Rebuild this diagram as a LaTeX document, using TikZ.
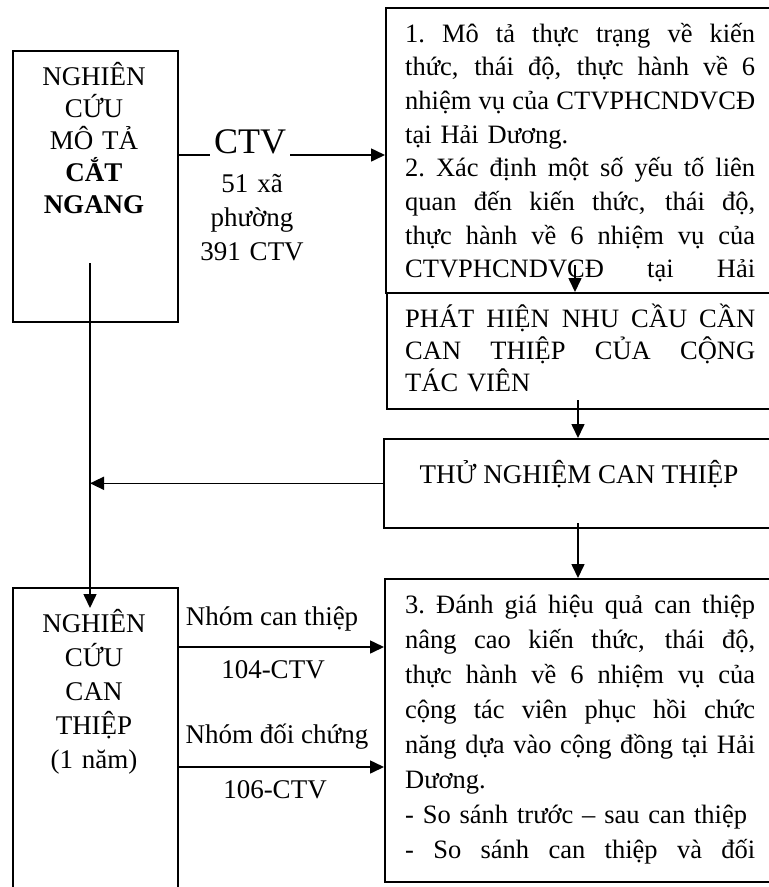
\documentclass[tikz,border=0pt]{standalone}
\usepackage{fontspec}
\setmainfont{Liberation Serif}
\usetikzlibrary{arrows.meta}
\newcommand\JLine[1]{\leavevmode\hbox to 350pt{\spaceskip=.25em plus 1fil minus .1em\relax\xspaceskip=\spaceskip\relax #1}}
\begin{document}
\begin{tikzpicture}[x=1pt,y=-1pt,
  box/.style={draw, line width=1.6pt, rectangle, inner sep=0pt, anchor=north west},
  arr/.style={line width=1.6pt, -{Triangle[length=14pt,width=13pt]}},
  txt/.style={inner sep=0pt, font=\fontsize{26.5}{33.7}\selectfont},
  ctxt/.style={inner sep=0pt, anchor=base, align=center, text width=160pt},
  lab/.style={inner sep=0pt, anchor=base, font=\fontsize{27}{33}\selectfont}]
\useasboundingbox (0,0) rectangle (769,887);
\clip (0,0) rectangle (769,887);
\fill[white] (0,0) rectangle (769,887);

% left boxes
\node[box, minimum width=165pt, minimum height=271pt] (boxA) at (12,50) {};
\node[ctxt, font=\fontsize{27}{32}\selectfont] (tA) at (94,85)
  {NGHIÊN\\CỨU\\MÔ TẢ\\\textbf{CẮT}\\\textbf{NGANG}};
\node[box, minimum width=165pt, minimum height=330pt] (boxB) at (12,587) {};
\node[ctxt, font=\fontsize{27}{34}\selectfont] (tB) at (94,632)
  {NGHIÊN\\CỨU\\CAN\\THIỆP\\(1 năm)};

% right top box
\node[box, minimum width=415pt, minimum height=285pt] (boxC) at (385,7) {};
\node[txt, anchor=base west, text width=350pt, align=left] (tC) at (405,42)
  {\JLine{1. Mô tả thực trạng về kiến}\\
   \JLine{thức, thái độ, thực hành về 6}\\
   \JLine{nhiệm vụ của CTVPHCNDVCĐ}\\
   tại Hải Dương.\\
   \JLine{2. Xác định một số yếu tố liên}\\
   \JLine{quan đến kiến thức, thái độ,}\\
   \JLine{thực hành về 6 nhiệm vụ của}\\
   \JLine{CTVPHCNDVCĐ tại Hải}\\
   Dương.};

% PHAT HIEN box
\node[box, fill=white, minimum width=414pt, minimum height=116pt] (boxD) at (386,292) {};
\node[txt, anchor=base west, text width=350pt, align=left, font=\fontsize{26.5}{32}\selectfont] (tD) at (405,327)
  {\JLine{PHÁT HIỆN NHU CẦU CẦN}\\
   \JLine{CAN THIỆP CỦA CỘNG}\\
   TÁC VIÊN};

% THU NGHIEM box
\node[box, minimum width=417pt, minimum height=89pt] (boxE) at (383,438) {};
\node[lab] (tE) at (579,483) {THỬ NGHIỆM CAN THIỆP};

% bottom right box
\node[box, minimum width=416pt, minimum height=303pt] (boxF) at (384,578) {};
\begin{scope}
\clip (386,580) rectangle (769,870);
\node[txt, anchor=base west, text width=350pt, align=left, font=\fontsize{26.5}{35}\selectfont] (tF) at (405,613)
  {\JLine{3. Đánh giá hiệu quả can thiệp}\\
   \JLine{nâng cao kiến thức, thái độ,}\\
   \JLine{thực hành về 6 nhiệm vụ của}\\
   \JLine{cộng tác viên phục hồi chức}\\
   \JLine{năng dựa vào cộng đồng tại Hải}\\
   Dương.\\
   - So sánh trước – sau can thiệp\\
   \JLine{- So sánh can thiệp và đối}\\
   chứng.};
\end{scope}

% coordinates
\coordinate (ctvy) at (0,155);
\coordinate (vtop) at (90,263);
\coordinate (vend) at (90,608);
\coordinate (cd) at (575,265);
\coordinate (de) at (578,400);
\coordinate (ef) at (578,523);
\coordinate (g1) at (0,647);
\coordinate (g2) at (0,767);

% connectors
\draw[arr] (boxA.east |- ctvy) -- (boxC.west |- ctvy);
\node[inner sep=4pt, fill=white, anchor=base, font=\fontsize{36}{40}\selectfont] (ctv) at (250,153) {CTV};
\node[ctxt, font=\fontsize{27}{34}\selectfont] (ctvinfo) at (252,192) {51 xã\\phường\\391 CTV};

\draw[arr] (vtop) -- (vend);
\draw[arr] (boxE.west) -- (boxE.west -| vtop);
\draw[arr] (cd) -- (cd |- boxD.north);
\draw[arr] (de) -- (de |- boxE.north);
\draw[arr] (ef) -- (ef |- boxF.north);
\draw[arr] (boxB.east |- g1) -- (boxF.west |- g1);
\draw[arr] (boxB.east |- g2) -- (boxF.west |- g2);

\node[lab] (l1) at (272,625) {Nhóm can thiệp};
\node[lab] (l2) at (273,678) {104-CTV};
\node[lab] (l3) at (277,743) {Nhóm đối chứng};
\node[lab] (l4) at (275,798) {106-CTV};
\end{tikzpicture}
\end{document}
